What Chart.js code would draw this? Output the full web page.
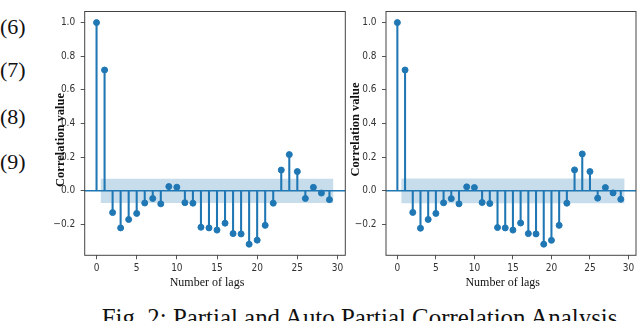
<!DOCTYPE html>
<html><head><meta charset="utf-8">
<script src="https://cdn.jsdelivr.net/npm/chart.js@4.4.0/dist/chart.umd.min.js"></script>
<style>
html,body{margin:0;padding:0;background:#fff;width:640px;height:321px;overflow:hidden;}
#wrap{position:relative;width:640px;height:321px;}
canvas{position:absolute;top:0;}
.eq{position:absolute;left:0;font-family:"Liberation Serif","Times New Roman",serif;font-size:22px;line-height:1;color:#111;white-space:nowrap;}
#cap{position:absolute;font-family:"Liberation Serif","Times New Roman",serif;line-height:1;white-space:nowrap;color:#111;}
</style></head><body>
<div id="wrap">
<div class="eq" style="top:15.5px">(6)</div>
<div class="eq" style="top:59.4px">(7)</div>
<div class="eq" style="top:105.5px">(8)</div>
<div class="eq" style="top:150.9px">(9)</div>
<canvas id="c1" width="352" height="295" style="left:0px"></canvas>
<canvas id="c2" width="294" height="295" style="left:346px"></canvas>
<div id="cap">Fig. 2: Partial and Auto Partial Correlation Analysis</div>
</div>
<script>
// ---- data ----
const lags = [0,1,2,3,4,5,6,7,8,9,10,11,12,13,14,15,16,17,18,19,20,21,22,23,24,25,26,27,28,29];
const leftValues = [1.0, 0.718, -0.130, -0.221, -0.171, -0.135, -0.073, -0.046, -0.078, 0.025, 0.021, -0.071, -0.074, -0.217, -0.221, -0.234, -0.193, -0.255, -0.257, -0.318, -0.294, -0.206, -0.074, 0.123, 0.215, 0.114, -0.046, 0.020, -0.014, -0.053];
const rightValues = [1.0, 0.718, -0.129, -0.223, -0.171, -0.135, -0.072, -0.047, -0.078, 0.023, 0.019, -0.070, -0.076, -0.219, -0.221, -0.234, -0.192, -0.255, -0.257, -0.318, -0.295, -0.206, -0.074, 0.124, 0.219, 0.114, -0.044, 0.019, -0.013, -0.051];
const bandLags = [0.5, 29.5];
const leftBandUpper = [0.072, 0.072];
const leftBandLower = [-0.073, -0.073];
const rightBandUpper = [0.073, 0.073];
const rightBandLower = [-0.074, -0.074];
const xTicks = [0, 5, 10, 15, 20, 25, 30];
const yTicks = [-0.2, 0.0, 0.2, 0.4, 0.6, 0.8, 1.0];
const xLimits = [-1.475, 30.975];
const yLimits = [-0.384, 1.066];
const xTitle = "Number of lags";
const yTitle = "Correlation value";

const C0 = '#1f77b4';
const tickFont = {family: '"Liberation Sans Narrow","DejaVu Sans Condensed","Liberation Sans",sans-serif', size: 10};
const serif = '"Liberation Serif","Times New Roman",serif';

const framePlugin = {
  id: 'frame',
  afterDatasetsDraw(chart) {
    const {ctx, chartArea: a, scales: {y}} = chart;
    const y0 = y.getPixelForValue(0);
    ctx.save();
    ctx.strokeStyle = C0; ctx.lineWidth = 1.5;
    ctx.beginPath(); ctx.moveTo(a.left, y0); ctx.lineTo(a.right, y0); ctx.stroke();
    ctx.strokeStyle = '#444'; ctx.lineWidth = 1;
    ctx.strokeRect(a.left, a.top, a.right - a.left, a.bottom - a.top);
    ctx.restore();
  },
  afterDraw(chart) {
    const g = chart.options.plugins.frame;
    const {ctx} = chart;
    ctx.save();
    ctx.fillStyle = '#111';
    ctx.textAlign = 'center';
    ctx.textBaseline = 'middle';
    ctx.font = '12px ' + serif;
    ctx.fillText(xTitle, g.xTitleX, g.xTitleY);
    ctx.translate(g.yTitleX, g.yTitleY);
    ctx.rotate(-Math.PI / 2);
    ctx.font = 'bold 12.5px ' + serif;
    ctx.fillText(yTitle, 0, 0);
    ctx.restore();
  }
};

function makeChart(id, values, bandUp, bandLo, g) {
  const pts = lags.map((l, i) => ({x: l, y: values[i]}));
  return new Chart(document.getElementById(id), {
    type: 'bar',
    data: {
      datasets: [
        {type: 'scatter', data: pts, backgroundColor: C0, borderColor: C0, pointRadius: 3, pointHoverRadius: 3, order: 0},
        {type: 'bar', data: pts, backgroundColor: C0, barThickness: 1.4, order: 1},
        {type: 'line', data: bandLags.map((l, i) => ({x: l, y: bandUp[i]})), borderWidth: 0, pointRadius: 0,
          backgroundColor: 'rgba(31,119,180,0.25)', fill: '+1', order: 2},
        {type: 'line', data: bandLags.map((l, i) => ({x: l, y: bandLo[i]})), borderWidth: 0, pointRadius: 0,
          backgroundColor: 'rgba(31,119,180,0.25)', fill: false, order: 3}
      ]
    },
    options: {
      responsive: false, animation: false, devicePixelRatio: 1,
      layout: {padding: {top: 2, right: g.padRight, left: 0, bottom: 0}},
      plugins: {legend: {display: false}, tooltip: {enabled: false}, frame: g},
      scales: {
        x: {
          type: 'linear', min: xLimits[0], max: xLimits[1], offset: false,
          grid: {display: true, drawOnChartArea: false, drawTicks: true, tickLength: 4, color: '#555', offset: false},
          border: {display: false},
          ticks: {font: tickFont, color: '#333', padding: 3, maxRotation: 0, autoSkip: false, callback: v => String(v)},
          title: {display: false},
          afterBuildTicks: s => { s.ticks = xTicks.map(v => ({value: v})); },
          afterFit: s => { s.height = g.xHeight; }
        },
        y: {
          type: 'linear', min: yLimits[0], max: yLimits[1],
          grid: {display: true, drawOnChartArea: false, drawTicks: true, tickLength: 4, color: '#555'},
          border: {display: false},
          ticks: {font: tickFont, color: '#333', padding: 5.5, autoSkip: false,
            callback: v => v.toFixed(1).replace('-', '\u2212')},
          title: {display: false},
          afterBuildTicks: s => { s.ticks = yTicks.map(v => ({value: v})); },
          afterFit: s => { s.width = g.yWidth; }
        }
      }
    },
    plugins: [framePlugin]
  });
}

makeChart('c1', leftValues, leftBandUpper, leftBandLower,
  {padRight: 6.7, xHeight: 39.7, yWidth: 84.7, xTitleX: 207, xTitleY: 283, yTitleX: 60.5, yTitleY: 140});
makeChart('c2', rightValues, rightBandUpper, rightBandLower,
  {padRight: 1.3, xHeight: 39.7, yWidth: 40, xTitleX: 156.7, xTitleY: 283, yTitleX: 9.5, yTitleY: 129.5});

// caption sizing
const cap = document.getElementById('cap');
cap.style.fontSize = '100px';
const w100 = cap.getBoundingClientRect().width;
const fs = 100 * 516 / w100;
cap.style.fontSize = fs + 'px';
cap.style.left = '101.7px';
cap.style.top = (310.7 - 0.1755 * fs) + 'px';
</script>
</body></html>
